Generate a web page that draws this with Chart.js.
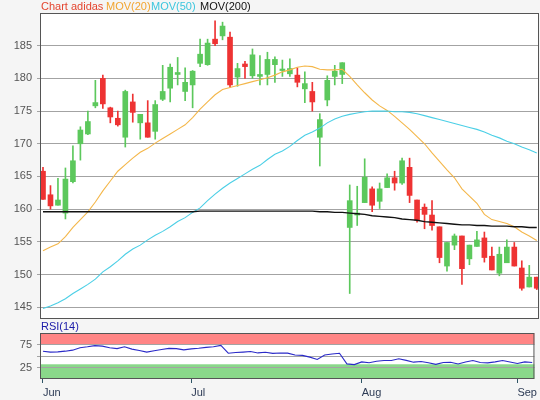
<!DOCTYPE html>
<html><head><meta charset="utf-8">
<script src="https://cdn.jsdelivr.net/npm/chart.js@4.4.1/dist/chart.umd.min.js"></script>
<style>
html,body{margin:0;padding:0;background:#f5f5f5;}
#wrap{position:relative;width:540px;height:400px;overflow:hidden;font-family:"Liberation Sans",Arial,sans-serif;}
.t{position:absolute;font-size:11px;line-height:13px;white-space:nowrap;}
canvas{position:absolute;left:0;}
</style></head><body>
<div id="wrap">
<canvas id="main" width="540" height="332" style="top:0"></canvas>
<canvas id="rsi" width="540" height="80" style="top:320px"></canvas>
<span class="t" style="left:41px;top:0;color:#e4452f">Chart adidas</span>
<span class="t" style="left:106px;top:0;color:#f2a531">MOV(20)</span>
<span class="t" style="left:151px;top:0;color:#3cc6de">MOV(50)</span>
<span class="t" style="left:200px;top:0;color:#111">MOV(200)</span>
<span class="t" style="left:41px;top:320px;color:#1a1aa8">RSI(14)</span>
</div>
<script>
// ---- data ----
const tickIdx = [0, 20, 43, 64];
const tickLabels = ['Jun', 'Jul', 'Aug', 'Sep'];

const open = [165.8,162.2,160.6,159.4,164.2,170.0,171.5,175.8,180.0,175.5,
  173.9,171.0,176.4,173.2,173.2,171.9,176.8,178.5,180.6,178.0,
  179.0,182.3,182.1,186.0,186.5,186.3,180.2,182.2,180.4,180.3,
  180.6,182.1,181.2,180.7,180.5,178.4,178.0,171.0,176.7,180.3,
  180.6,157.2,159.1,161.0,163.1,161.2,163.3,164.8,164.0,166.4,
  161.4,160.3,159.1,157.3,151.3,154.5,155.9,152.4,154.3,155.6,
  152.8,150.2,151.8,154.2,151.0,148.1,149.6];
const high = [166.4,163.6,164.7,166.3,169.7,172.6,175.0,179.7,180.5,175.6,
  175.0,178.2,177.6,174.5,176.6,176.6,182.0,182.2,183.2,181.6,
  181.2,186.0,186.0,188.8,188.6,187.1,182.3,182.6,184.5,183.5,
  184.0,183.3,182.8,183.0,181.6,181.0,179.4,174.6,180.4,182.0,
  182.4,163.7,163.5,167.7,163.4,164.0,165.4,165.8,167.8,167.8,
  161.4,160.8,161.3,157.3,154.9,156.2,155.9,154.5,156.6,156.5,
  154.2,154.2,155.3,154.9,152.1,151.4,149.6];
const low = [161.5,160.0,160.6,158.5,164.0,167.5,171.4,175.5,175.4,173.2,
  172.7,169.5,173.3,170.7,171.0,170.7,176.6,176.4,179.0,176.6,
  175.5,181.8,182.0,185.0,185.9,178.6,178.8,180.0,180.0,179.0,
  179.0,179.4,180.3,180.3,178.7,176.3,175.0,166.6,175.8,179.0,
  179.2,147.1,157.5,161.0,159.6,160.1,163.3,162.9,163.8,161.0,
  158.0,157.0,156.8,151.8,150.5,153.8,148.5,151.5,154.3,151.9,
  150.7,149.8,151.8,151.3,147.6,148.1,147.7];
const close = [161.5,160.5,161.4,164.6,167.4,172.1,173.4,176.3,176.1,174.1,
  172.9,178.0,174.8,174.5,171.0,176.0,178.0,181.7,180.9,179.4,
  181.1,183.7,185.4,185.3,188.0,179.0,181.5,181.8,183.6,180.6,
  182.9,182.9,181.4,181.5,179.4,179.2,176.4,173.7,179.7,181.1,
  182.4,161.3,159.4,164.9,160.6,163.1,164.8,164.0,167.4,162.1,
  158.3,159.2,157.5,152.6,154.9,155.9,150.9,154.5,155.3,152.6,
  150.7,153.1,154.2,151.3,147.9,149.6,147.9];

const mov20 = [153.65,154.2,154.7,155.8,157.2,158.4,159.6,161.1,162.8,164.3,
  165.8,166.8,167.8,168.7,169.3,170.1,170.8,171.5,172.2,172.9,
  174.0,175.3,176.4,177.5,178.3,178.6,178.9,179.2,179.5,179.8,
  180.1,180.5,181.0,181.3,181.7,181.9,181.8,181.4,181.3,181.3,
  181.4,180.3,179.0,177.8,176.7,175.8,175.1,174.2,173.2,172.2,
  171.1,170.0,168.6,167.3,166.0,164.8,163.1,162.0,160.9,159.2,
  158.4,158.1,157.8,157.3,156.5,155.9,155.2];
const mov50 = [144.8,145.2,145.7,146.3,147.1,147.8,148.5,149.3,150.4,151.2,
  152.1,153.1,153.9,154.5,155.3,156.0,156.6,157.3,158.1,158.7,
  159.5,160.2,161.3,162.3,163.2,164.0,164.7,165.4,166.1,166.7,
  167.6,168.4,168.9,169.6,170.5,171.3,171.8,172.4,173.2,173.8,
  174.2,174.5,174.7,174.9,175.0,175.0,175.0,174.9,174.9,174.8,
  174.6,174.3,174.0,173.7,173.4,173.1,172.8,172.5,172.2,171.8,
  171.3,170.9,170.4,170.0,169.5,169.1,168.6];
const mov200 = [159.6,159.6,159.6,159.6,159.6,159.6,159.6,159.6,159.6,159.6,
  159.6,159.6,159.6,159.6,159.6,159.6,159.6,159.6,159.6,159.6,
  159.6,159.7,159.7,159.7,159.7,159.7,159.7,159.7,159.7,159.7,
  159.7,159.7,159.7,159.7,159.7,159.7,159.7,159.6,159.6,159.5,
  159.5,159.4,159.3,159.2,159.0,158.9,158.8,158.7,158.5,158.4,
  158.3,158.1,158.0,157.9,157.8,157.7,157.6,157.6,157.5,157.5,
  157.4,157.4,157.4,157.3,157.3,157.2,157.2];
const rsi14 = [60.4,58.5,59.0,60.5,62.7,68.0,70.0,72.5,71.5,68.0,
  66.0,70.1,65.0,62.0,58.5,61.5,64.0,66.5,66.0,63.4,
  65.5,66.7,68.7,70.0,73.0,56.0,57.5,58.5,59.7,56.7,
  58.0,55.8,56.5,56.2,52.2,51.3,47.5,42.5,52.0,54.4,
  56.0,32.8,31.3,37.2,35.3,38.7,40.2,40.3,44.0,40.5,
  36.6,38.0,35.5,31.8,35.8,36.4,32.8,37.0,40.3,36.0,
  35.1,37.3,40.2,37.0,33.6,37.3,35.8];
const rsiBands = [{from: 75, to: 100, color: '#ff8585'}, {from: 0, to: 32, color: '#8ad88a'}];

// ---- helpers ----
const UP = '#5cc85c', DOWN = '#ee3333';
const candleColors = open.map((o, i) => close[i] >= o ? UP : DOWN);
const pts = arr => arr.map((v, i) => ({x: i, y: v}));
const FONT = {family: '"Liberation Sans", Arial, sans-serif', size: 11};

const framePlugin = {
  id: 'frame',
  beforeDraw(chart, args, opts) {
    const {ctx, chartArea: a} = chart;
    ctx.save();
    ctx.fillStyle = '#ffffff';
    ctx.fillRect(a.left, a.top, a.right - a.left, a.bottom - a.top);
    (opts.bands || []).forEach(b => {
      const ys = chart.scales.y;
      const y1 = ys.getPixelForValue(b.to), y2 = ys.getPixelForValue(b.from);
      ctx.fillStyle = b.color;
      ctx.fillRect(a.left, y1, a.right - a.left, y2 - y1);
    });
    ctx.restore();
  },
  afterDraw(chart) {
    const {ctx, chartArea: a} = chart;
    ctx.save();
    ctx.strokeStyle = '#555';
    ctx.lineWidth = 1;
    ctx.strokeRect(a.left + 0.5, a.top + 0.5, a.right - a.left - 1, a.bottom - a.top - 1);
    ctx.restore();
  }
};

const xCommon = {type: 'linear', min: -0.4, max: 66.3, offset: false, grid: {offset: false}};

new Chart(document.getElementById('main'), {
  type: 'bar',
  data: {datasets: [
    {type: 'line', data: pts(mov200), borderColor: '#111', borderWidth: 1.4, pointRadius: 0, tension: 0, order: 0},
    {type: 'line', data: pts(mov50), borderColor: '#4bcfe6', borderWidth: 1.1, pointRadius: 0, tension: 0, order: 0},
    {type: 'line', data: pts(mov20), borderColor: '#f4b74a', borderWidth: 1.1, pointRadius: 0, tension: 0, order: 0},
    {data: open.map((o, i) => ({x: i, y: [low[i], high[i]]})), backgroundColor: candleColors,
     barThickness: 1, grouped: false, borderWidth: 0, order: 2},
    {data: open.map((o, i) => ({x: i, y: [o, close[i]]})), backgroundColor: candleColors,
     barThickness: 5, grouped: false, borderWidth: 0, minBarLength: 1.5, order: 1}
  ]},
  options: {
    responsive: false, animation: false, events: [],
    layout: {padding: {top: 13, right: 1, bottom: 13, left: 0}},
    plugins: {legend: {display: false}, tooltip: {enabled: false}, frame: {}},
    scales: {
      x: Object.assign({}, xCommon, {display: false}),
      y: {
        min: 143.2, max: 190,
        afterFit(s) { s.width = 40; },
        afterBuildTicks(s) { s.ticks = s.ticks.filter(t => t.value < 189); },
        ticks: {stepSize: 5, includeBounds: false, color: '#555', font: FONT, padding: 5},
        grid: {color: '#a3a3a3', tickLength: 3},
        border: {display: false}
      }
    }
  },
  plugins: [framePlugin]
});

new Chart(document.getElementById('rsi'), {
  type: 'line',
  data: {datasets: [
    {data: pts(rsi14), borderColor: '#2a2ac8', borderWidth: 1.1, pointRadius: 0, tension: 0}
  ]},
  options: {
    responsive: false, animation: false, events: [],
    layout: {padding: {top: 13, right: 1, bottom: 0, left: 0}},
    plugins: {legend: {display: false}, tooltip: {enabled: false}, frame: {bands: rsiBands}},
    scales: {
      x: Object.assign({}, xCommon, {
        afterFit(s) { s.height = 21; },
        afterBuildTicks(s) { s.ticks = tickIdx.map(v => ({value: v})); },
        ticks: {autoSkip: false, maxRotation: 0, align: 'start', color: '#2d3b55', font: FONT, padding: 3,
                callback: v => tickLabels[tickIdx.indexOf(v)]},
        grid: {drawOnChartArea: false, tickLength: 4, color: '#2f5566'},
        border: {display: false}
      }),
      y: {
        min: 0, max: 100,
        afterFit(s) { s.width = 40; },
        afterBuildTicks(s) { s.ticks = [{value: 25}, {value: 50}, {value: 75}]; },
        ticks: {color: '#555', font: FONT, padding: 5, callback: v => v === 50 ? '' : String(v)},
        grid: {color: '#a3a3a3', tickLength: 3},
        border: {display: false}
      }
    }
  },
  plugins: [framePlugin]
});
</script>
</body></html>
